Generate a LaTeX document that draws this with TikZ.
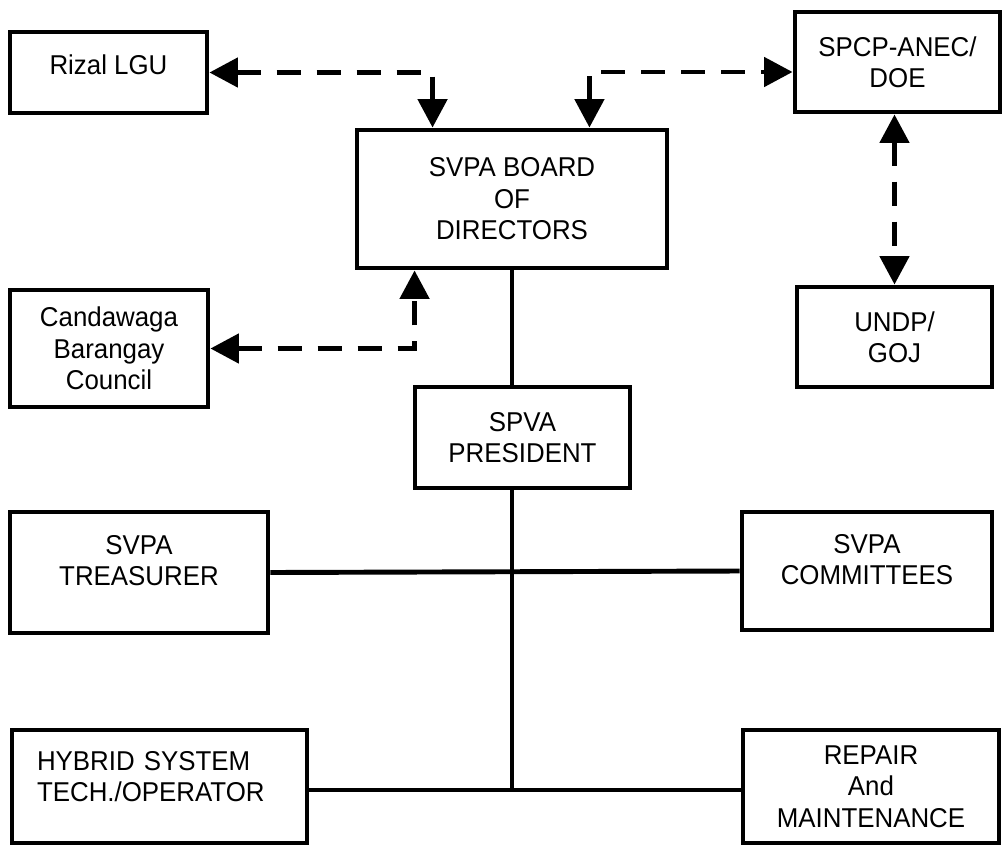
\documentclass[tikz,border=0pt]{standalone}
\usepackage{fontspec}
\setmainfont{Liberation Sans}[FakeStretch=0.95]
\usetikzlibrary{arrows.meta}

\begin{document}
\begin{tikzpicture}[x=0.02cm, y=-0.02cm, >={Triangle[length=0.57cm,width=0.58cm]},
  box/.style={draw, line width=2.8pt, align=center, inner sep=0pt,
    font=\fontsize{15.5}{17.9}\selectfont},
  link/.style={line width=2.8pt},
  dlink/.style={line width=2.8pt, <->, dash pattern=on 0.48cm off 0.32cm}]
  \useasboundingbox (0,0) rectangle (1002,846);

  % boxes
  \node[box, minimum width=3.94cm, minimum height=1.62cm] (rizal) at (108.5,72.5) {Rizal LGU\\[-0.31cm]};
  \node[box, minimum width=6.2cm, minimum height=2.76cm] (board) at (512,199) {SVPA BOARD\\OF\\DIRECTORS};
  \node[box, minimum width=4.1cm, minimum height=2cm] (spcp) at (897.5,62) {SPCP-ANEC/\\DOE};
  \node[box, minimum width=3.96cm, minimum height=2.34cm] (cand) at (109,348.5) {Candawaga\\Barangay\\Council};
  \node[box, minimum width=3.9cm, minimum height=2cm] (undp) at (894.5,337) {UNDP/\\GOJ};
  \node[box, minimum width=4.3cm, minimum height=2.02cm] (pres) at (522.5,437.5) {SPVA\\PRESIDENT};
  \node[box, minimum width=5.16cm, minimum height=2.42cm] (treas) at (139,572.5) {SVPA\\TREASURER\\[-0.15cm]};
  \node[box, minimum width=5cm, minimum height=2.36cm] (comm) at (867,571) {SVPA\\COMMITTEES\\[-0.17cm]};
  \node[box, minimum width=5.9cm, minimum height=2.26cm, text width=4.9cm, align=left] (hyb) at (159.5,786.5) {HYBRID SYSTEM\\TECH./OPERATOR\\[-0.23cm]\mbox{}};
  \node[box, minimum width=5.12cm, minimum height=2.26cm] (rep) at (871,786.5) {REPAIR\\And\\MAINTENANCE};

  % dashed links
  \draw[dlink] (rizal.east) -| ([xshift=1.56cm]board.north west);
  \draw[dlink] ([xshift=-1.6cm]board.north east) |- ([yshift=-0.2cm]spcp.west);
  \draw[dlink] (spcp.south -| undp.north) -- (undp.north);
  \draw[dlink] (cand.east) -| ([xshift=1.2cm]board.south west);

  % solid links
  \draw[link] (board.south) -- (board.south |- pres.north);
  \draw[link] (board.south |- pres.south) -- ([yshift=-0.07cm]board.south |- hyb.east);
  \draw[link] (treas.east) -- (comm.west);
  \draw[link] ([yshift=-0.07cm]hyb.east) -- ([yshift=-0.07cm]rep.west);
\end{tikzpicture}
\end{document}
